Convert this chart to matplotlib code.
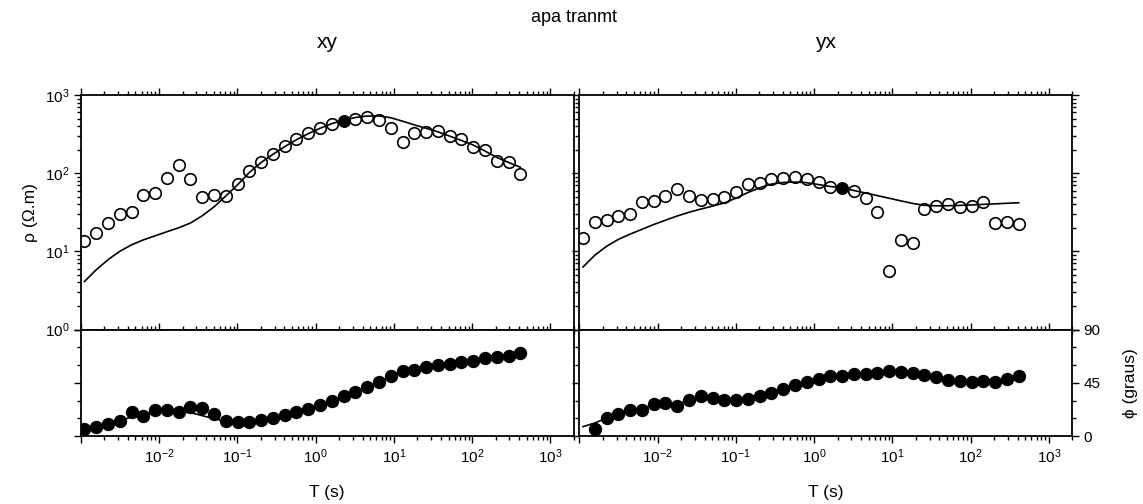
import numpy as np
import matplotlib
matplotlib.use('Agg')
import matplotlib.pyplot as plt
from matplotlib.ticker import FixedLocator, NullFormatter, MultipleLocator

plt.rcParams['font.family'] = ['Liberation Sans', 'DejaVu Sans']
plt.rcParams['mathtext.fontset'] = 'custom'
plt.rcParams['mathtext.rm'] = 'Liberation Sans'
plt.rcParams['mathtext.it'] = 'Liberation Sans:italic'
plt.rcParams['mathtext.bf'] = 'Liberation Sans:bold'

# periods (s)
period = np.array([0.001114, 0.001575, 0.002228, 0.003151, 0.004456, 0.006302,
                   0.008912, 0.01260, 0.01782, 0.02521, 0.03565, 0.05041,
                   0.07130, 0.1008, 0.1426, 0.2017, 0.2852, 0.4033, 0.5704,
                   0.8066, 1.141, 1.613, 2.282, 3.227, 4.563, 6.453, 9.126,
                   12.91, 18.25, 25.81, 36.51, 51.63, 73.01, 103.3, 146.0,
                   206.5, 292.0, 413.0])

# apparent resistivity, observed and model
rho_xy = np.array([13.5, 17.3, 22.8, 29.9, 31.5, 53, 56, 87, 126, 84, 49, 52,
                   51, 73, 107, 137, 176, 220, 273, 328, 382, 430, 469, 488,
                   527, 479, 374, 248, 323, 336, 346, 301, 271, 218, 198, 143,
                   139, 97])
rho_xy_mod = np.array([4.1, 5.8, 7.8, 10.0, 12.1, 14.0, 15.8, 17.8, 20, 23,
                       28.5, 37, 51, 71, 102, 137, 174, 218, 268, 320, 375,
                       430, 475, 515, 538, 540, 512, 462, 415, 375, 338, 298,
                       262, 229, 192, 159, 137, 119])
rho_yx = np.array([14.6, 23.9, 25.1, 28.3, 29.9, 42.3, 44.4, 51.4, 62.6, 51.4,
                   44.8, 46.1, 49.9, 56.8, 71.8, 75.3, 83.2, 87.3, 89.1, 83.2,
                   76.9, 65.8, 65.0, 59.3, 48.4, 31.5, 5.6, 13.9, 12.6, 34.4,
                   38.3, 40.2, 37.1, 38.3, 42.7, 23.2, 23.7, 22.3])
rho_yx_mod = np.array([6.3, 8.9, 11.6, 14.2, 16.6, 19.1, 22.0, 25.0, 28.3,
                       31.6, 34.7, 37.9, 41.6, 48, 56.5, 65, 72.5, 76, 77, 75.5,
                       71.5, 67.5, 65, 60, 55.7, 51.6, 47.8, 44.2, 41, 38.8,
                       38.2, 38.3, 38.7, 39.2, 39.9, 40.5, 41.2, 41.8])

# phase (degrees), observed and model
phi_xy = np.array([5.9, 7.3, 10.4, 12.4, 20.0, 16.6, 21.7, 22.3, 20.0, 24.6,
                   23.7, 18.9, 12.4, 11.6, 12.1, 13.5, 15.2, 17.8, 20.3, 22.9,
                   26.3, 29.6, 33.6, 37.5, 41.5, 45.7, 51.1, 54.8, 55.9, 58.4,
                   60.1, 61.2, 62.4, 63.8, 65.8, 66.6, 67.7, 70.0])
phi_xy_mod = np.array([6, 7.5, 10, 13, 16, 18, 20, 21, 20.8, 19.8, 17.2, 14.7,
                       12.4, 11.8, 12.2, 13.5, 15.2, 17.8, 20.3, 22.9, 26.3,
                       29.6, 33.6, 37.5, 41.5, 45.7, 50.5, 54.5, 56.5, 58.4,
                       60, 61.3, 62.5, 63.8, 65.5, 66.7, 67.8, 69.5])
phi_yx = np.array([np.nan, 5.9, 15.2, 18.6, 22.3, 22.3, 26.8, 27.6, 25.7, 30.2,
                   33.6, 31.9, 30.5, 30.2, 31.3, 34.1, 36.1, 39.5, 42.9, 45.7,
                   48.5, 50.8, 50.8, 52.2, 52.8, 53.3, 55.3, 54.2, 53.6, 51.4,
                   49.7, 47.7, 46.3, 46.0, 46.3, 45.7, 48.0, 50.5])
phi_yx_mod = np.array([7.9, 11, 15, 18.6, 21.5, 23.5, 26, 27, 27.5, 29.8, 31.5,
                       31.8, 30.8, 30.5, 31.5, 34, 36.5, 39.5, 42.9, 45.7, 48.3,
                       50.3, 51.2, 52, 52.7, 53.3, 54.3, 54.3, 53.5, 51.5, 49.6,
                       47.7, 46.4, 46.1, 46.2, 46.3, 47.8, 50])

sel = 22  # highlighted period
decades = [1e-3, 1e-2, 1e-1, 1e0, 1e1, 1e2, 1e3]
dec_labels = ['', '$10^{-2}$', '$10^{-1}$', '$10^{0}$', '$10^{1}$', '$10^{2}$', '$10^{3}$']
minors = [m * d for d in decades for m in range(2, 10)]

W, H = 1143, 504
fig = plt.figure(figsize=(W / 100, H / 100), dpi=100)


def box(x0, x1, y0, y1):
    return [x0 / W, 1 - y1 / H, (x1 - x0) / W, (y1 - y0) / H]


def frame(ax):
    for s in ax.spines.values():
        s.set_linewidth(1.3)
    ax.set_xscale('log')
    ax.set_xlim(1e-3, 2e3)
    ax.xaxis.set_major_locator(FixedLocator(decades))
    ax.xaxis.set_minor_locator(FixedLocator(minors))
    ax.xaxis.set_minor_formatter(NullFormatter())
    ax.tick_params(which='both', direction='out', top=True, bottom=True,
                   width=1.0, labelsize=11, pad=3)
    ax.tick_params(which='major', length=5)
    ax.tick_params(which='minor', length=3)


def rho_panel(ax, rho, mod, left):
    frame(ax)
    ax.plot(period, mod, color='k', lw=1.2)
    keep = np.arange(len(period)) != sel
    ax.plot(period[keep], rho[keep], 'o', mfc='none', mec='k', ms=8.3, mew=1.2)
    ax.plot(period[sel], rho[sel], 'o', mfc='k', mec='k', ms=8.3)
    ax.set_yscale('log')
    ax.set_ylim(1, 1000)
    ax.yaxis.set_major_locator(FixedLocator([1, 10, 100, 1000]))
    ax.yaxis.set_minor_locator(FixedLocator([m * d for d in [1, 10, 100] for m in range(2, 10)]))
    ax.yaxis.set_minor_formatter(NullFormatter())
    ax.set_yticklabels(['$10^{0}$', '$10^{1}$', '$10^{2}$', '$10^{3}$'])
    ax.tick_params(labelbottom=False)
    if left:
        ax.tick_params(which='both', left=True, right=False)
    else:
        ax.tick_params(which='both', left=True, right=True, labelleft=False)


def phi_panel(ax, phi, mod, left):
    frame(ax)
    ax.plot(period, mod, color='k', lw=1.2)
    ax.plot(period, phi, 'o', color='k', ms=8.6)
    ax.set_ylim(0, 90)
    ax.yaxis.set_major_locator(FixedLocator([0, 45, 90]))
    ax.yaxis.set_minor_locator(MultipleLocator(15))
    ax.set_xticklabels(dec_labels)
    if left:
        ax.tick_params(which='both', left=True, right=False, labelleft=False)
    else:
        ax.tick_params(which='both', left=True, right=True,
                       labelleft=False, labelright=True)


ax1 = fig.add_axes(box(80.7, 574, 95, 329.5))
ax2 = fig.add_axes(box(579.3, 1072.3, 95, 329.5))
ax3 = fig.add_axes(box(80.7, 574, 329.5, 436))
ax4 = fig.add_axes(box(579.3, 1072.3, 329.5, 436))

rho_panel(ax1, rho_xy, rho_xy_mod, True)
rho_panel(ax2, rho_yx, rho_yx_mod, False)
phi_panel(ax3, phi_xy, phi_xy_mod, True)
phi_panel(ax4, phi_yx, phi_yx_mod, False)

fig.text(574 / W, 1 - 18 / H, 'apa tranmt', ha='center', va='center', fontsize=13)
fig.text(327 / W, 1 - 43 / H, 'xy', ha='center', va='center', fontsize=15)
fig.text(826 / W, 1 - 43 / H, 'yx', ha='center', va='center', fontsize=15)
fig.text(30 / W, 1 - 213 / H, 'ρ (Ω.m)', rotation=90, ha='center', va='center', fontsize=12.5)
fig.text(1131 / W, 1 - 383 / H, 'ϕ (graus)', rotation=90, ha='center', va='center', fontsize=12.5)
fig.text(327 / W, 1 - 492 / H, 'T (s)', ha='center', va='center', fontsize=12.5)
fig.text(826 / W, 1 - 492 / H, 'T (s)', ha='center', va='center', fontsize=12.5)

fig.savefig('out.png', dpi=100)
